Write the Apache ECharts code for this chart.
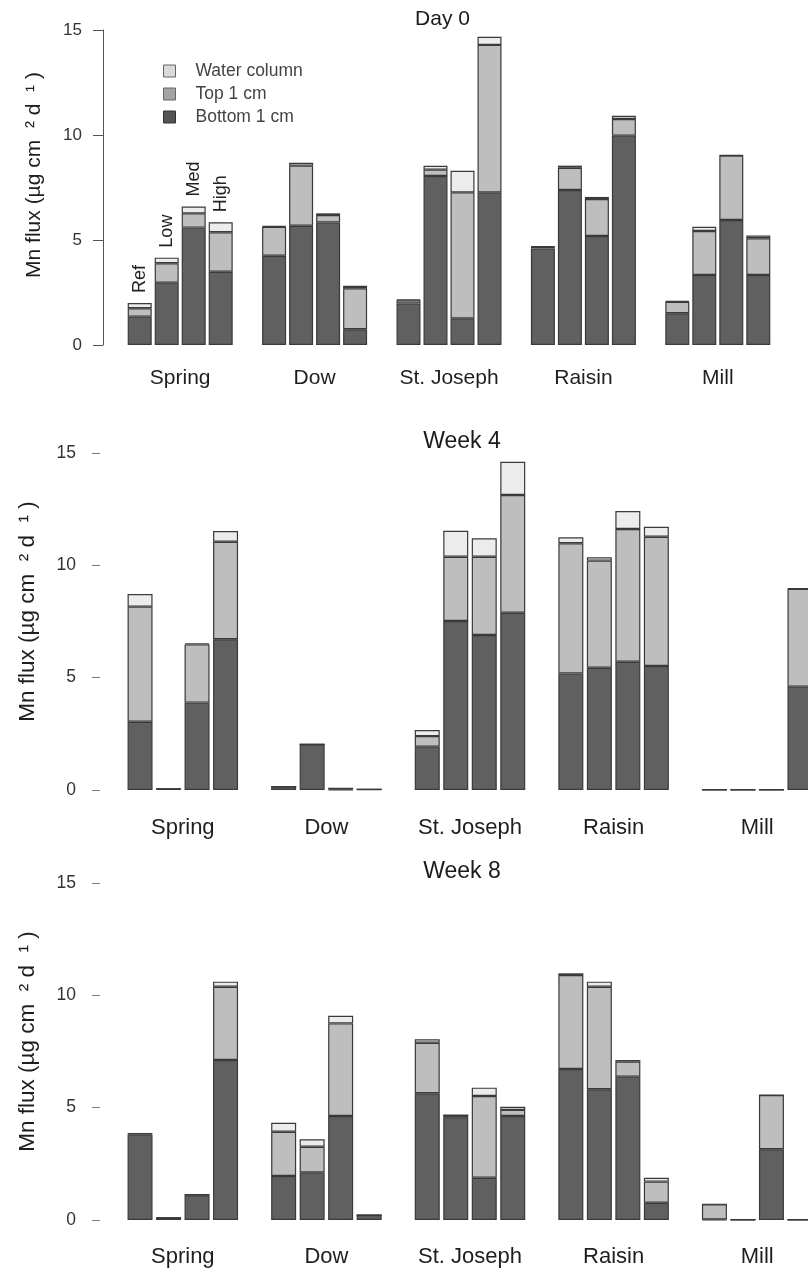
<!DOCTYPE html>
<html><head><meta charset="utf-8">
<script src="https://cdn.jsdelivr.net/npm/echarts@6/dist/echarts.min.js"></script>
<style>html,body{margin:0;padding:0;background:#fff}#c{width:808px;height:1276px}</style>
</head><body><div id="c"></div>
<script>
// ---- data ----
const rivers = ['Spring', 'Dow', 'St. Joseph', 'Raisin', 'Mill'];
const treatments = ['Ref', 'Low', 'Med', 'High'];
const panelTitles = ['Day 0', 'Week 4', 'Week 8'];
const layers = ['Bottom 1 cm', 'Top 1 cm', 'Water column'];
const yTicks = [0, 5, 10, 15];

// rows = rivers, columns = Ref, Low, Med, High
const day0Bottom = [[1.35, 2.97, 5.59, 3.49], [4.25, 5.68, 5.83, 0.75], [1.98, 8.05, 1.27, 7.27], [4.60, 7.38, 5.19, 9.97], [1.51, 3.33, 5.95, 3.33]];
const day0Top    = [[0.40, 0.92, 0.68, 1.88], [1.38, 2.86, 0.36, 1.95], [0.15, 0.30, 6.00, 7.02], [0.08, 1.06, 1.76, 0.79], [0.55, 2.10, 3.07, 1.75]];
const day0Water  = [[0.25, 0.27, 0.32, 0.47], [0.03, 0.14, 0.08, 0.12], [0.03, 0.18, 1.03, 0.39], [0.02, 0.10, 0.10, 0.16], [0.03, 0.20, 0.02, 0.13]];

const week4Bottom = [[3.04, 0.05, 3.89, 6.71], [0.15, 2.03, 0.02, 0.03], [1.93, 7.52, 6.90, 7.89], [5.19, 5.44, 5.71, 5.52], [0.02, 0.02, 0.02, 4.60]];
const week4Top    = [[5.12, 0, 2.59, 4.34], [0, 0, 0.05, 0], [0.47, 2.86, 3.48, 5.24], [5.79, 4.77, 5.91, 5.75], [0, 0, 0, 4.35]];
const week4Water  = [[0.56, 0, 0.05, 0.48], [0, 0, 0, 0], [0.27, 1.16, 0.82, 1.48], [0.27, 0.15, 0.80, 0.45], [0, 0, 0, 0.02]];

const week8Bottom = [[3.80, 0.10, 1.10, 7.12], [1.96, 2.12, 4.63, 0.22], [5.64, 4.57, 1.88, 4.63], [6.72, 5.82, 6.38, 0.77], [0.02, 0.02, 3.15, 0.02]];
const week8Top    = [[0.05, 0, 0.03, 3.26], [1.97, 1.14, 4.12, 0], [2.25, 0.10, 3.64, 0.27], [4.18, 4.56, 0.67, 0.94], [0.68, 0, 2.41, 0]];
const week8Water  = [[0, 0, 0, 0.23], [0.40, 0.33, 0.34, 0], [0.15, 0, 0.37, 0.14], [0.08, 0.23, 0.07, 0.17], [0, 0, 0, 0]];

const panelData = [
  [day0Bottom, day0Top, day0Water],
  [week4Bottom, week4Top, week4Water],
  [week8Bottom, week8Top, week8Water]
];

// ---- styling / layout ----
const FONT = '"Liberation Sans", Arial, sans-serif';
const fills = ['#606060', '#bebebe', '#ececec'];
const legendFills = ['#545454', '#a4a4a4', '#dadada'];
const grids = [
  {left: 113, top: 30, width: 672, height: 315, outerBoundsMode: 'none', containLabel: false},
  {left: 111, top: 453, width: 718, height: 337, outerBoundsMode: 'none', containLabel: false},
  {left: 111, top: 883, width: 718, height: 337, outerBoundsMode: 'none', containLabel: false}
];
const barW = [24, 25, 25];
const barGapPct = ['12.5%', '14%', '14%'];
const xFont = [21, 22, 22];
const xMargin = [23, 27, 26];
const yFont = [17, 17.5, 17.5];
const yOffset = [10, 11, 11];
const titlePos = [[442.5, 19.5, 21], [462, 442, 23], [462, 872, 23]];
const yTitlePos = [[34.5, 175, 21], [27.5, 611.5, 22.5], [27.5, 1041.5, 22.5]];

const xAxes = [], yAxes = [], series = [], graphics = [];
panelData.forEach((layerArr, p) => {
  xAxes.push({
    type: 'category', gridIndex: p, data: rivers,
    axisLine: {show: false}, axisTick: {show: false},
    axisLabel: {fontSize: xFont[p], fontFamily: FONT, color: '#1e1e1e', margin: xMargin[p]}
  });
  yAxes.push({
    type: 'value', gridIndex: p, min: yTicks[0], max: yTicks[yTicks.length - 1], interval: 5,
    offset: yOffset[p], splitLine: {show: false},
    axisLine: {show: p === 0, lineStyle: {color: '#555', width: 1}},
    axisTick: {show: true, length: p === 0 ? 10 : 8, lineStyle: {color: p === 0 ? '#555' : '#777'}},
    axisLabel: {fontSize: yFont[p], fontFamily: FONT, color: '#333', margin: p === 0 ? 21 : 24}
  });
  treatments.forEach((t, ti) => {
    layerArr.forEach((arr, li) => {
      const data = arr.map((row, ri) => {
        const v = row[ti];
        if (p === 0 && ri === 0 && li === 2) {
          return {value: v, label: {show: true, formatter: t, position: 'top', rotate: 90,
            align: 'left', verticalAlign: 'middle', distance: 10,
            fontSize: 18, fontFamily: FONT, color: '#222'}};
        }
        return v;
      });
      series.push({
        type: 'bar', name: layers[li], xAxisIndex: p, yAxisIndex: p,
        stack: 'p' + p + '_' + ti, data: data,
        barWidth: barW[p], barGap: barGapPct[p],
        itemStyle: {color: fills[li], borderColor: '#3a3a3a', borderWidth: 1.2},
        emphasis: {disabled: true}, animation: false
      });
    });
  });
  graphics.push({type: 'text', x: titlePos[p][0], y: titlePos[p][1],
    style: {text: panelTitles[p], font: titlePos[p][2] + 'px ' + FONT, fill: '#1a1a1a', align: 'center', verticalAlign: 'middle'}});
  graphics.push({type: 'text', x: yTitlePos[p][0], y: yTitlePos[p][1], rotation: Math.PI / 2,
    style: {text: 'Mn flux (\u00b5g cm  \u00b2 d  \u00b9 )', font: yTitlePos[p][2] + 'px ' + FONT, fill: '#1e1e1e', align: 'center', verticalAlign: 'middle'}});
});

const chart = echarts.init(document.getElementById('c'), null, {renderer: 'canvas'});
chart.setOption({
  animation: false,
  backgroundColor: '#fff',
  grid: grids,
  xAxis: xAxes,
  yAxis: yAxes,
  legend: {
    orient: 'vertical', left: 163, top: 62, padding: 0,
    itemWidth: 12, itemHeight: 12, itemGap: 5, icon: 'rect', selectedMode: false,
    textStyle: {fontSize: 17.5, fontFamily: FONT, color: '#444', padding: [0, 0, 0, 15]},
    data: [
      {name: 'Water column', itemStyle: {color: legendFills[2], borderColor: '#666', borderWidth: 1}},
      {name: 'Top 1 cm', itemStyle: {color: legendFills[1], borderColor: '#666', borderWidth: 1}},
      {name: 'Bottom 1 cm', itemStyle: {color: legendFills[0], borderColor: '#333', borderWidth: 1}}
    ]
  },
  graphic: graphics,
  series: series
});
</script>
</body></html>
